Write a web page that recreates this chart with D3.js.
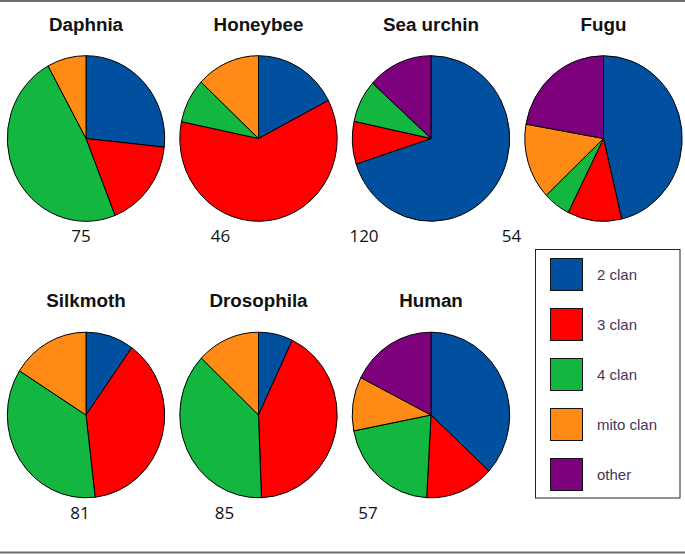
<!DOCTYPE html>
<html>
<head>
<meta charset="utf-8">
<script src="https://cdn.jsdelivr.net/npm/d3@7"></script>
<style>
  html, body { margin: 0; padding: 0; background: #fff; }
  svg { display: block; }
</style>
</head>
<body>
<svg id="chart" width="685" height="554"></svg>
<script>
// ---- data ----
const categories = ["2 clan", "3 clan", "4 clan", "mito clan", "other"];
const colors = ["#00509f", "#ff0000", "#13b740", "#ff8a16", "#7d007d"];
const species = ["Daphnia", "Honeybee", "Sea urchin", "Fugu", "Silkmoth", "Drosophila", "Human"];
const totals = [75, 46, 120, 54, 81, 85, 57];
const clan2 = [20, 8, 84, 25, 8, 6, 21];
const clan3 = [13, 28, 10, 6, 31, 36, 8];
const clan4 = [36, 4, 10, 3, 29, 32, 12];
const mito = [6, 6, 0, 8, 13, 11, 6];
const other = [0, 0, 16, 12, 0, 0, 10];

// ---- layout ----
const W = 685, H = 554;
const svg = d3.select("#chart");
const col = d3.scaleLinear().domain([0, 3]).range([86, 603.5]);
const row = d3.scaleLinear().domain([0, 1]).range([138.5, 415]);
const rx = 78.7, ry = 82.8;
const countOffsets = [-5, -38, -67, -92, -6, -34, -63];

// outer frame lines
svg.append("line").attr("x1", 0).attr("x2", W).attr("y1", 1).attr("y2", 1)
  .attr("stroke", "#6e6e6e").attr("stroke-width", 2);
svg.append("line").attr("x1", 0).attr("x2", W).attr("y1", 552.5).attr("y2", 552.5)
  .attr("stroke", "#6e6e6e").attr("stroke-width", 2);

const pie = d3.pie().sort(null).value(d => d);
const arc = d3.arc().innerRadius(0).outerRadius(rx);

species.forEach((name, i) => {
  const c = i < 4 ? i : i - 4;
  const r = i < 4 ? 0 : 1;
  const cx = col(c), cy = row(r);
  const vals = [clan2[i], clan3[i], clan4[i], mito[i], other[i]];
  const g = svg.append("g").attr("transform", `translate(${cx},${cy}) scale(1,${ry / rx})`);
  g.selectAll("path")
    .data(pie(vals).filter(d => d.data > 0))
    .join("path")
    .attr("d", arc)
    .attr("fill", d => colors[d.index])
    .attr("stroke", "#000")
    .attr("stroke-width", 1)
    .attr("vector-effect", "non-scaling-stroke");

  svg.append("text")
    .attr("x", cx).attr("y", r === 0 ? 31 : 307)
    .attr("text-anchor", "middle")
    .attr("font-family", "'Liberation Sans', Arial, sans-serif")
    .attr("font-weight", "bold")
    .attr("font-size", 18.8)
    .attr("fill", "#111")
    .text(name);

  svg.append("text")
    .attr("x", cx + countOffsets[i]).attr("y", r === 0 ? 242 : 519)
    .attr("text-anchor", "middle")
    .attr("font-family", "'Open Sans', sans-serif")
    .attr("font-size", 17)
    .attr("fill", "#111")
    .text(totals[i]);
});

// legend
const lg = svg.append("g");
lg.append("rect").attr("x", 535.5).attr("y", 249.5).attr("width", 144.5).attr("height", 248.5)
  .attr("fill", "#fff").attr("stroke", "#222").attr("stroke-width", 1);
const ly = d3.scaleLinear().domain([0, 4]).range([258.5, 458.5]);
categories.forEach((cat, k) => {
  lg.append("rect").attr("x", 550.5).attr("y", ly(k)).attr("width", 32).attr("height", 32)
    .attr("fill", colors[k]).attr("stroke", "#111").attr("stroke-width", 1);
  lg.append("text").attr("x", 597).attr("y", ly(k) + 16).attr("dy", "0.35em")
    .attr("font-family", "'Liberation Sans', Arial, sans-serif")
    .attr("font-size", 15)
    .attr("fill", "#453658")
    .text(cat);
});
</script>
</body>
</html>
